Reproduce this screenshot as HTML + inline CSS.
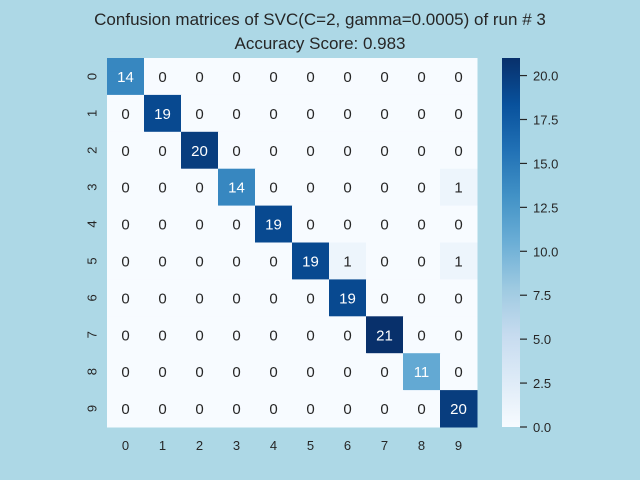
<!DOCTYPE html>
<html><head><meta charset="utf-8"><style>
body{margin:0;background:#add8e6;}
svg{display:block;font-family:"Liberation Sans",Arial,sans-serif;}
</style></head><body>
<svg id="c" width="640" height="480">
<text x="320" y="25" text-anchor="middle" font-size="17" fill="#262626">Confusion matrices of SVC(C=2, gamma=0.0005) of run # 3</text>
<text x="320" y="49" text-anchor="middle" font-size="17" fill="#262626">Accuracy Score: 0.983</text>
<defs><linearGradient id="g" x1="0" y1="1" x2="0" y2="0">
<stop offset="0" stop-color="#f7fbff"/><stop offset="0.125" stop-color="#deebf7"/><stop offset="0.25" stop-color="#c6dbef"/><stop offset="0.375" stop-color="#9ecae1"/><stop offset="0.5" stop-color="#6baed6"/><stop offset="0.625" stop-color="#4292c6"/><stop offset="0.75" stop-color="#2171b5"/><stop offset="0.875" stop-color="#08519c"/><stop offset="1" stop-color="#08306b"/>
</linearGradient></defs>
<g id="cells"></g>
<rect x="502" y="58" width="18" height="369" fill="url(#g)"/>
<g id="cb"></g>
</svg>
<script>
const labels=["0","1","2","3","4","5","6","7","8","9"];
const matrix=[
[14,0,0,0,0,0,0,0,0,0],
[0,19,0,0,0,0,0,0,0,0],
[0,0,20,0,0,0,0,0,0,0],
[0,0,0,14,0,0,0,0,0,1],
[0,0,0,0,19,0,0,0,0,0],
[0,0,0,0,0,19,1,0,0,1],
[0,0,0,0,0,0,19,0,0,0],
[0,0,0,0,0,0,0,21,0,0],
[0,0,0,0,0,0,0,0,11,0],
[0,0,0,0,0,0,0,0,0,20]];
const cbTicks=[0,2.5,5,7.5,10,12.5,15,17.5,20];
const vmin=0,vmax=21;
const stops=["#f7fbff","#deebf7","#c6dbef","#9ecae1","#6baed6","#4292c6","#2171b5","#08519c","#08306b"];
function hex(h){return [1,3,5].map(i=>parseInt(h.substr(i,2),16));}
function cmap(v){let t=(v-vmin)/(vmax-vmin)*8;let i=Math.min(7,Math.floor(t));let f=t-i;let a=hex(stops[i]),b=hex(stops[i+1]);return "rgb("+a.map((x,k)=>Math.round(x+(b[k]-x)*f)).join(",")+")";}
const L=107,T=58,W=370,H=369,n=labels.length,cw=W/n,ch=H/n;
const NS="http://www.w3.org/2000/svg";
const g=document.getElementById("cells");
function mk(t,a,p){const e=document.createElementNS(NS,t);for(const k in a)e.setAttribute(k,a[k]);p.appendChild(e);return e;}
matrix.forEach((row,r)=>row.forEach((v,c)=>{
 const rc=mk("rect",{x:L+c*cw,y:T+r*ch,width:cw+0.5,height:ch+0.5,fill:cmap(v)},g);
 
 
 const tx=mk("text",{x:L+(c+0.5)*cw,y:T+(r+0.5)*ch+5.5,"text-anchor":"middle","font-size":"15",fill:v>(vmax+vmin)/2?"#fff":"#262626"},g);
 tx.textContent=v;
 
 
}));
labels.forEach((s,i)=>{
 const x=mk("text",{x:L+(i+0.5)*cw,y:T+H+23,"text-anchor":"middle","font-size":"13",fill:"#262626"},g);
 x.textContent=s;
 
 
 const cy=T+(i+0.5)*ch, cx=L-15;
 const y=mk("text",{x:cx,y:cy,"text-anchor":"middle","font-size":"13",fill:"#262626",transform:"rotate(-90 "+cx+" "+cy+")",dy:"4.5"},g);
 y.textContent=s;
 
 
});
const cb=document.getElementById("cb");
cbTicks.forEach(v=>{
 const y=T+H-(v-vmin)/(vmax-vmin)*H;
 const l=mk("line",{x1:520,x2:527,y1:y,y2:y,stroke:"#262626","stroke-width":1.2},cb);
 
 
 const t=mk("text",{x:533,y:y+5,"font-size":"13",fill:"#262626"},cb);
 t.textContent=v.toFixed(1);
 
 
});
</script>
</body></html>
